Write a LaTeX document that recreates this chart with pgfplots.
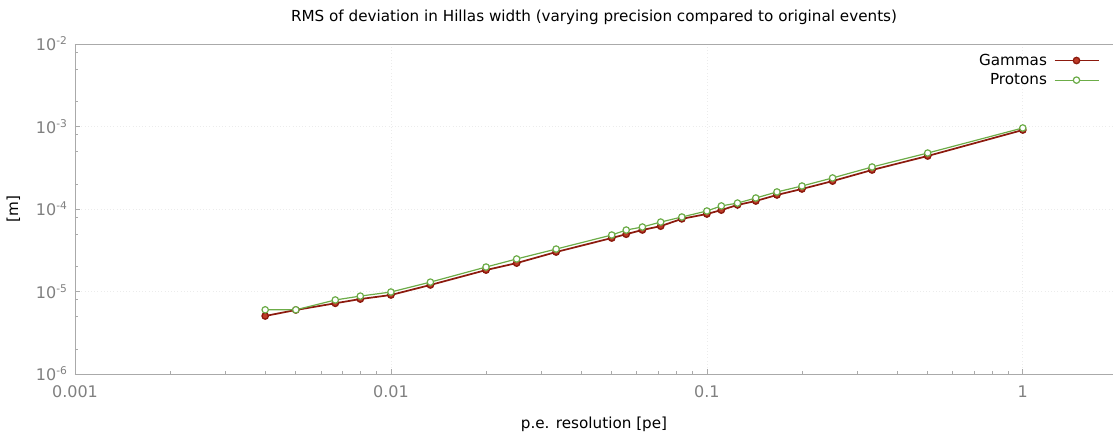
\documentclass[border=0pt]{standalone}
\usepackage{pgfplots}
\pgfplotsset{compat=1.18}
\usepackage{fontspec}
\setmainfont{DejaVu Sans}

\definecolor{gamred}{RGB}{140,26,14}
\definecolor{gamfill}{RGB}{190,60,40}
\definecolor{progreen}{RGB}{108,172,72}
\definecolor{axgray}{RGB}{170,170,170}
\definecolor{labgray}{RGB}{128,128,128}

\pgfplotsset{
  gamstyle/.style={gamred, line width=1.3pt, mark=*, mark size=2.4pt,
    mark options={solid, fill=gamfill, draw=gamred, line width=1pt}},
  prostyle/.style={progreen, line width=0.9pt, mark=*, mark size=2.4pt,
    mark options={solid, fill=white, draw=progreen, line width=0.9pt}},
}

\begin{document}
\begin{tikzpicture}[x=0.75pt,y=0.75pt]
  % frame of the whole picture, in reference pixels (axis origin at px 75,374)
  \path[use as bounding box] (-75,-61) rectangle (1040,374);
  \begin{axis}[
      at={(0,0)}, anchor=south west,
      scale only axis,
      width=778.5pt, height=247.5pt,
      xmode=log, ymode=log,
      xmin=0.001, xmax=1.93,
      ymin=1e-6, ymax=1e-2,
      axis line style={axgray, line width=0.6pt},
      axis x line*=bottom, axis y line*=left,
      xtick={0.001,0.01,0.1,1},
      xticklabels={0.001,0.01,0.1,1},
      ytick={1e-6,1e-5,1e-4,1e-3,1e-2},
      yticklabels={10\textsuperscript{-6},10\textsuperscript{-5},10\textsuperscript{-4},10\textsuperscript{-3},10\textsuperscript{-2}},
      minor ytick={2e-6,5e-6,8e-6,2e-5,5e-5,8e-5,2e-4,5e-4,8e-4,2e-3,5e-3,8e-3},
      tick style={axgray, line width=0.5pt},
      major tick length=4pt, minor tick length=2.5pt,
      tick align=inside,
      ticklabel style={font=\fontsize{12}{14}\selectfont, text=labgray},
      xticklabel style={yshift=-5pt},
      yticklabel style={xshift=-2pt},
      grid=major,
      major grid style={dotted, gray!15, line width=0.5pt},
      title={RMS of deviation in Hillas width (varying precision compared to original events)},
      title style={font=\fontsize{11.4}{13}\selectfont, yshift=5pt},
      xlabel={p.e. resolution [pe]},
      ylabel={[m]},
      label style={font=\fontsize{11.4}{13}\selectfont},
      xlabel style={yshift=-8pt},
      ylabel style={yshift=5pt},
      legend style={at={(0.991,0.987)}, anchor=north east, draw=none, fill=none,
        font=\fontsize{11.4}{13}\selectfont, row sep=0.8pt,
        cells={anchor=east},
        /tikz/every odd column/.append style={column sep=3pt}},
      legend plot pos=right,
      legend image code/.code={
        \draw[mark repeat=2, mark phase=2]
          plot coordinates {(0cm,0cm) (0.58cm,0cm) (1.16cm,0cm)};},
    ]
    \draw[axgray, line width=0.6pt] (rel axis cs:0,1) -- (rel axis cs:1,1);

    \addlegendimage{gamstyle}
    \addlegendentry{Gammas}
    \addlegendimage{prostyle}
    \addlegendentry{Protons}

    \addplot[gamstyle, forget plot]
      coordinates {
      (0.004,5.05e-6) (0.005,5.97e-6) (0.006667,7.2e-6) (0.008,8.1e-6)
      (0.01,9.07e-6) (0.013333,1.2e-5) (0.02,1.82e-5) (0.025,2.21e-5)
      (0.033333,3.01e-5) (0.05,4.45e-5) (0.055556,4.95e-5) (0.0625,5.57e-5)
      (0.071429,6.2e-5) (0.083333,7.6e-5) (0.1,8.7e-5) (0.111111,9.7e-5)
      (0.125,1.12e-4) (0.142857,1.25e-4) (0.166667,1.48e-4) (0.2,1.75e-4)
      (0.25,2.18e-4) (0.333333,2.97e-4) (0.5,4.39e-4) (1,9.07e-4)
    };
    \addplot[prostyle, forget plot]
      coordinates {
      (0.004,6.0e-6) (0.005,6.0e-6) (0.006667,7.9e-6) (0.008,8.8e-6)
      (0.01,9.86e-6) (0.013333,1.3e-5) (0.02,1.98e-5) (0.025,2.48e-5)
      (0.033333,3.27e-5) (0.05,4.84e-5) (0.055556,5.56e-5) (0.0625,6.05e-5)
      (0.071429,6.95e-5) (0.083333,8.0e-5) (0.1,9.46e-5) (0.111111,1.09e-4)
      (0.125,1.18e-4) (0.142857,1.36e-4) (0.166667,1.61e-4) (0.2,1.9e-4)
      (0.25,2.38e-4) (0.333333,3.23e-4) (0.5,4.77e-4) (1,9.6e-4)
    };
  \end{axis}
\end{tikzpicture}
\end{document}
